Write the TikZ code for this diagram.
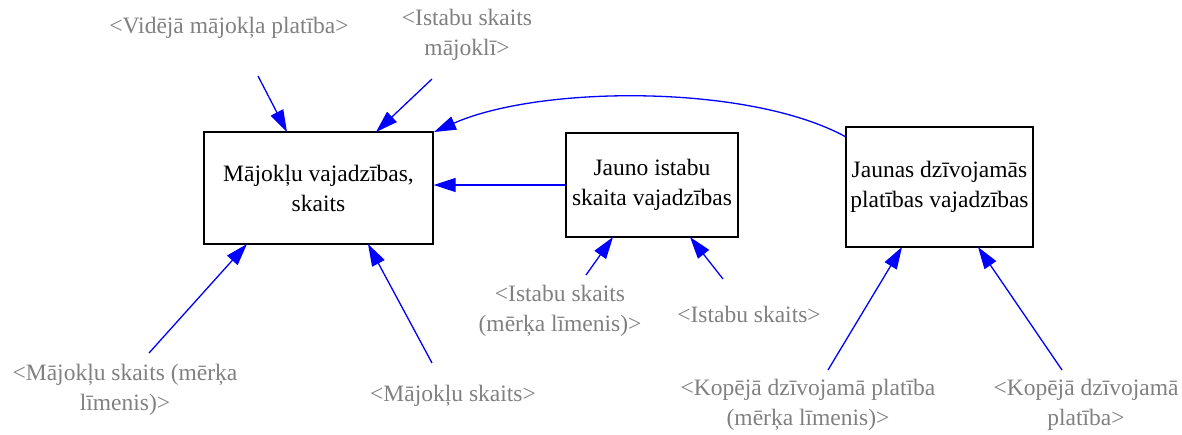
\documentclass[tikz,border=0pt]{standalone}
\usepackage{fontspec}
\setmainfont{Liberation Serif}
\usetikzlibrary{arrows.meta}
\definecolor{lblgray}{RGB}{128,128,128}
\definecolor{arrblue}{RGB}{0,0,255}
\begin{document}
\begin{tikzpicture}[x=1pt,y=-1pt,
  every node/.style={font=\fontsize{23.5}{30}\selectfont, inner sep=0pt, align=center},
  varbox/.style={draw=black, line width=1.3pt, fill=white},
  lbl/.style={text=lblgray},
  link/.style={draw=arrblue, line width=1.3pt, -{Triangle[length=22pt,width=14pt]}}
]
\useasboundingbox (0,0) rectangle (1182,434);
% boxes
\node[varbox, minimum width=229pt, minimum height=112pt] (A) at (318.5,188) {Mājokļu vajadzības,\\skaits};
\node[varbox, minimum width=172pt, minimum height=104pt] (B) at (652,185) {Jauno istabu\\skaita vajadzības};
\node[varbox, minimum width=187pt, minimum height=120pt] (C) at (939.5,187) {Jaunas dzīvojamās\\platības vajadzības};
% labels
\node[lbl] (l1) at (229,28) {<Vidējā mājokļa platība>};
\node[lbl] (l2) at (467,35) {<Istabu skaits\\mājoklī>};
\node[lbl] (l3) at (125,390) {<Mājokļu skaits (mērķa\\līmenis)>};
\node[lbl] (l4) at (453,396) {<Mājokļu skaits>};
\node[lbl] (l5) at (560,311) {<Istabu skaits\\(mērķa līmenis)>};
\node[lbl] (l6) at (749,314) {<Istabu skaits>};
\node[lbl] (l7) at (808,405) {<Kopējā dzīvojamā platība\\(mērķa līmenis)>};
\node[lbl] (l8) at (1086,405) {<Kopējā dzīvojamā\\platība>};
% tail coordinates
\coordinate (t1) at (258,76);
\coordinate (t2) at (432,79);
\coordinate (t3) at (149,353);
\coordinate (t4) at (432,363);
\coordinate (t5) at (586,275);
\coordinate (t6) at (723,279);
\coordinate (t7) at (828,370);
\coordinate (t8) at (1062,370);
% head coordinates on boxes
\coordinate (h1) at (287,132);
\coordinate (h2) at (376,132);
\coordinate (h3) at (247,244);
\coordinate (h4) at (368,244);
\coordinate (h5) at (613,237);
\coordinate (h6) at (690,237);
\coordinate (h7) at (902,247);
\coordinate (h8) at (978,247);
\coordinate (hc) at (434,132);
\coordinate (tc) at (846,137);
% connectors
\draw[link] (t1) -- (h1);
\draw[link] (t2) -- (h2);
\draw[link] (t3) -- (h3);
\draw[link] (t4) -- (h4);
\draw[link] (t5) -- (h5);
\draw[link] (t6) -- (h6);
\draw[link] (t7) -- (h7);
\draw[link] (t8) -- (h8);
\draw[link] (B.west) -- (B.west -| A.east);
\draw[link] (tc) .. controls (750,84) and (540,85) .. (hc);
\end{tikzpicture}
\end{document}
